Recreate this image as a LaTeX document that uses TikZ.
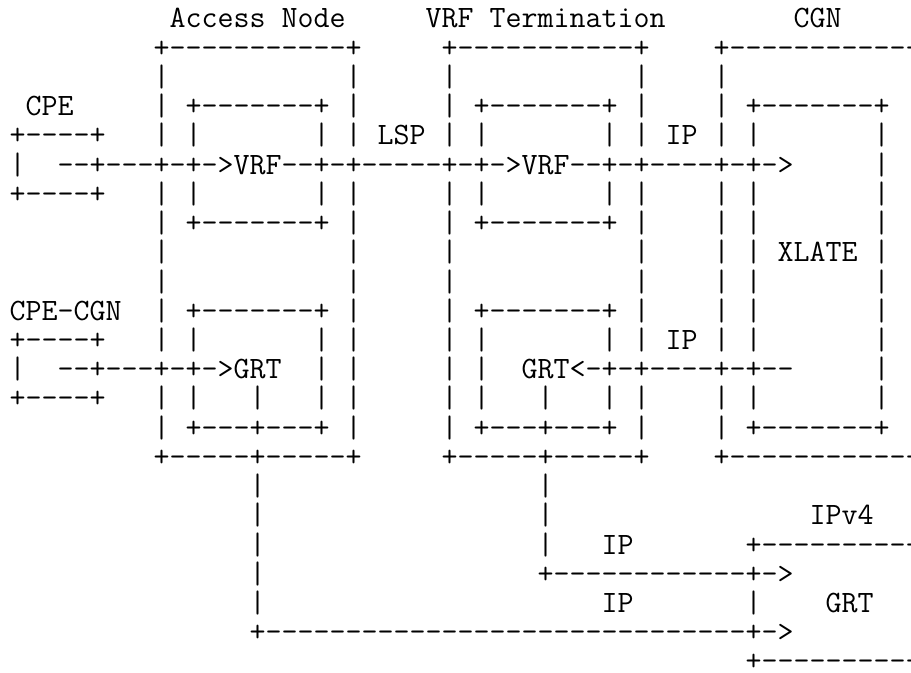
\documentclass[tikz,border=0pt]{standalone}
\usepackage{fontspec}
\newcommand\sk[1]{\hspace*{#1\fontcharwd\font`x}}
\newdimen\probew
\newdimen\asciisize
\newcommand\asciifont{\ttfamily\fontsize{\asciisize}{1.1\asciisize}\selectfont}
\tikzset{
  asciirow/.style={anchor=base west, inner sep=0pt, outer sep=0pt,
    font=\asciifont, text=black}
}
\begin{document}
\sbox0{\ttfamily\fontsize{20pt}{22pt}\selectfont x}%
\probew=\wd0
\asciisize=\dimexpr 20pt*786432/\probew\relax
\begin{tikzpicture}
\useasboundingbox (0,0) rectangle (683.25pt,-504.75pt);
\clip (0,0) rectangle (683.25pt,-504.75pt);
\node[asciirow] (r1)  at (7.3pt,-20.98pt)  {\sk{10}Access Node\sk{5}VRF Termination\sk{8}CGN};
\node[asciirow] (r2)  at (7.3pt,-42.90pt)  {\sk{9}+-----------+\sk{5}+-----------+\sk{4}+------------};
\node[asciirow] (r3)  at (7.3pt,-64.82pt)  {\sk{9}|\sk{11}|\sk{5}|\sk{11}|\sk{4}|};
\node[asciirow] (r4)  at (7.3pt,-86.74pt)  {\sk{1}CPE\sk{5}|\sk{1}+-------+\sk{1}|\sk{5}|\sk{1}+-------+\sk{1}|\sk{4}|\sk{1}+-------+};
\node[asciirow] (r5)  at (7.3pt,-108.66pt) {+----+\sk{3}|\sk{1}|\sk{7}|\sk{1}|\sk{1}LSP\sk{1}|\sk{1}|\sk{7}|\sk{1}|\sk{1}IP\sk{1}|\sk{1}|\sk{7}|};
\node[asciirow] (r6)  at (7.3pt,-130.58pt) {|\sk{2}--+---+-+->VRF--+-+-----+-+->VRF--+-+----+-+->\sk{5}|};
\node[asciirow] (r7)  at (7.3pt,-152.50pt) {+----+\sk{3}|\sk{1}|\sk{7}|\sk{1}|\sk{5}|\sk{1}|\sk{7}|\sk{1}|\sk{4}|\sk{1}|\sk{7}|};
\node[asciirow] (r8)  at (7.3pt,-174.42pt) {\sk{9}|\sk{1}+-------+\sk{1}|\sk{5}|\sk{1}+-------+\sk{1}|\sk{4}|\sk{1}|\sk{7}|};
\node[asciirow] (r9)  at (7.3pt,-196.34pt) {\sk{9}|\sk{11}|\sk{5}|\sk{11}|\sk{4}|\sk{1}|\sk{1}XLATE\sk{1}|};
\node[asciirow] (r10) at (7.3pt,-218.26pt) {\sk{9}|\sk{11}|\sk{5}|\sk{11}|\sk{4}|\sk{1}|\sk{7}|};
\node[asciirow] (r11) at (7.3pt,-240.18pt) {CPE-CGN\sk{2}|\sk{1}+-------+\sk{1}|\sk{5}|\sk{1}+-------+\sk{1}|\sk{4}|\sk{1}|\sk{7}|};
\node[asciirow] (r12) at (7.3pt,-262.10pt) {+----+\sk{3}|\sk{1}|\sk{7}|\sk{1}|\sk{5}|\sk{1}|\sk{7}|\sk{1}|\sk{1}IP\sk{1}|\sk{1}|\sk{7}|};
\node[asciirow] (r13) at (7.3pt,-284.02pt) {|\sk{2}--+---+-+->GRT\sk{2}|\sk{1}|\sk{5}|\sk{1}|\sk{2}GRT<-+-+----+-+--\sk{5}|};
\node[asciirow] (r14) at (7.3pt,-305.94pt) {+----+\sk{3}|\sk{1}|\sk{3}|\sk{3}|\sk{1}|\sk{5}|\sk{1}|\sk{3}|\sk{3}|\sk{1}|\sk{4}|\sk{1}|\sk{7}|};
\node[asciirow] (r15) at (7.3pt,-327.86pt) {\sk{9}|\sk{1}+---+---+\sk{1}|\sk{5}|\sk{1}+---+---+\sk{1}|\sk{4}|\sk{1}+-------+};
\node[asciirow] (r16) at (7.3pt,-349.78pt) {\sk{9}+-----+-----+\sk{5}+-----+-----+\sk{4}+------------};
\node[asciirow] (r17) at (7.3pt,-371.70pt) {\sk{15}|\sk{17}|};
\node[asciirow] (r18) at (7.3pt,-393.62pt) {\sk{15}|\sk{17}|\sk{16}IPv4};
\node[asciirow] (r19) at (7.3pt,-415.54pt) {\sk{15}|\sk{17}|\sk{3}IP\sk{7}+----------};
\node[asciirow] (r20) at (7.3pt,-437.46pt) {\sk{15}|\sk{17}+------------+->};
\node[asciirow] (r21) at (7.3pt,-459.38pt) {\sk{15}|\sk{21}IP\sk{7}|\sk{4}GRT};
\node[asciirow] (r22) at (7.3pt,-481.30pt) {\sk{15}+------------------------------+->};
\node[asciirow] (r23) at (7.3pt,-503.22pt) {\sk{46}+----------};
\end{tikzpicture}
\end{document}
